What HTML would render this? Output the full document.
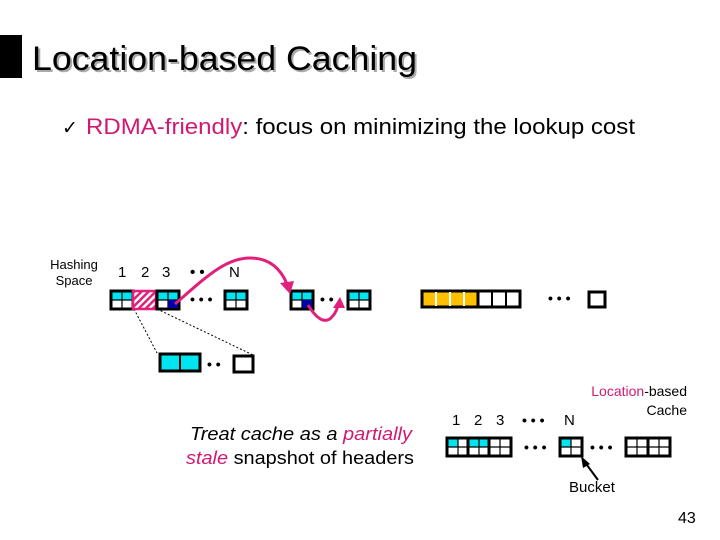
<!DOCTYPE html>
<html><head><style>
body{margin:0;width:720px;height:540px;background:#fff;overflow:hidden;font-family:"Liberation Sans",sans-serif}
svg{position:absolute;left:0;top:0}
</style></head><body>
<svg width="720" height="540" viewBox="0 0 720 540" font-family="Liberation Sans, sans-serif">
<defs>
<pattern id="h" width="5" height="5" patternUnits="userSpaceOnUse" patternTransform="rotate(45)"><rect width="5" height="5" fill="#fff"/><rect width="2.5" height="5" fill="#e0207a"/></pattern>
<g id="b">
<rect x="0" y="0" width="22" height="18" fill="#fff"/>
<rect x="0" y="0" width="22" height="9" fill="#00e5ef"/>
<line x1="11" y1="0" x2="11" y2="18" stroke="#000" stroke-width="1.2"/>
<line x1="0" y1="9" x2="22" y2="9" stroke="#000" stroke-width="1.2"/>
<rect x="0" y="0" width="22" height="18" fill="none" stroke="#000" stroke-width="3"/>
</g>
<g id="w">
<rect x="0" y="0" width="22" height="18" fill="#fff"/>
<line x1="11" y1="0" x2="11" y2="18" stroke="#000" stroke-width="1.2"/>
<line x1="0" y1="9" x2="22" y2="9" stroke="#000" stroke-width="1.2"/>
<rect x="0" y="0" width="22" height="18" fill="none" stroke="#000" stroke-width="3"/>
</g>
<g id="c">
<rect x="0" y="0" width="22" height="18" fill="#fff"/>
<rect x="0" y="0" width="11" height="9" fill="#00e5ef"/>
<line x1="11" y1="0" x2="11" y2="18" stroke="#000" stroke-width="1.2"/>
<line x1="0" y1="9" x2="22" y2="9" stroke="#000" stroke-width="1.2"/>
<rect x="0" y="0" width="22" height="18" fill="none" stroke="#000" stroke-width="3"/>
</g>
</defs>
<rect x="0" y="35" width="22" height="43" fill="#000"/>
<text x="32" y="70" font-size="34" fill="#aaa" dx="2" dy="2" textLength="385" lengthAdjust="spacingAndGlyphs">Location-based Caching</text>
<text x="32" y="70" font-size="34" fill="#000" textLength="385" lengthAdjust="spacingAndGlyphs">Location-based Caching</text>
<text x="62" y="134" font-size="19" fill="#000">✓</text>
<text x="86" y="134" font-size="22" textLength="549" lengthAdjust="spacingAndGlyphs"><tspan fill="#d01a72">RDMA-friendly</tspan>: focus on minimizing the lookup cost</text>

<text x="74" y="269" font-size="13" text-anchor="middle">Hashing</text>
<text x="74" y="285" font-size="13" text-anchor="middle">Space</text>
<text x="118" y="277" font-size="15">1</text><text x="141" y="277" font-size="15">2</text><text x="162" y="277" font-size="15">3</text>
<text x="190" y="277" font-size="15" font-weight="bold">• •</text>
<text x="229" y="277" font-size="15">N</text>

<line x1="134" y1="309" x2="157" y2="353" stroke="#000" stroke-dasharray="2,2"/>
<line x1="157" y1="309" x2="253" y2="355" stroke="#000" stroke-dasharray="2,2"/>
<use href="#b" x="111" y="291"/>
<rect x="133" y="291" width="23" height="18" fill="url(#h)" stroke="#e0207a" stroke-width="2.5"/>
<use href="#b" x="157" y="291"/>
<rect x="168" y="300" width="10" height="8" fill="#0000a0"/>
<text x="190" y="304" font-size="14" font-weight="bold">• • •</text>
<use href="#b" x="225" y="291"/>
<use href="#b" x="291" y="291"/>
<rect x="302" y="300" width="10" height="8" fill="#0000a0"/>
<text x="320" y="304" font-size="14" font-weight="bold">• •</text>
<use href="#b" x="348" y="291"/>

<rect x="160" y="354" width="40" height="17" fill="#00e5ef" stroke="#000" stroke-width="3"/>
<line x1="180" y1="354" x2="180" y2="371" stroke="#000" stroke-width="2"/>
<text x="207" y="369" font-size="14" font-weight="bold">• •</text>
<rect x="234" y="356" width="19" height="16" fill="#fff" stroke="#000" stroke-width="3"/>

<path d="M175 304 C 205 278, 225 258, 250 258 C 272 258, 282 272, 287 284" fill="none" stroke="#e0207a" stroke-width="3"/>
<polygon points="290,294 280,283 294,281" fill="#e0207a"/>
<path d="M308 305 C 316 318, 324 324, 331 318 C 336 313, 337 309, 338 305" fill="none" stroke="#e0207a" stroke-width="3"/>
<polygon points="340,297 333,308 345,308" fill="#e0207a"/>

<g stroke="#000" stroke-width="3">
<rect x="422" y="291" width="98" height="16" fill="#fff"/>
<rect x="422" y="291" width="56" height="16" fill="#ffc000"/>
</g>
<g stroke="#fff" stroke-width="2"><line x1="436" y1="292" x2="436" y2="306"/><line x1="450" y1="292" x2="450" y2="306"/><line x1="464" y1="292" x2="464" y2="306"/></g>
<g stroke="#000" stroke-width="2"><line x1="478" y1="292" x2="478" y2="306"/><line x1="492" y1="292" x2="492" y2="306"/><line x1="506" y1="292" x2="506" y2="306"/></g>
<text x="548" y="303" font-size="14" font-weight="bold">• • •</text>
<rect x="589" y="292" width="16" height="15" fill="#fff" stroke="#000" stroke-width="3"/>

<text x="190" y="440" font-size="18" font-style="italic" textLength="222" lengthAdjust="spacingAndGlyphs">Treat cache as a <tspan fill="#d01a72">partially</tspan></text>
<text x="186" y="464" font-size="18" textLength="228" lengthAdjust="spacingAndGlyphs"><tspan font-style="italic" fill="#d01a72">stale</tspan> snapshot of headers</text>

<text x="687" y="396" font-size="14" text-anchor="end"><tspan fill="#d01a72">Location</tspan>-based</text>
<text x="687" y="415" font-size="14" text-anchor="end">Cache</text>
<text x="452" y="425" font-size="15">1</text><text x="474" y="425" font-size="15">2</text><text x="496" y="425" font-size="15">3</text>
<text x="522" y="425" font-size="14" font-weight="bold">• • •</text>
<text x="564" y="425" font-size="15">N</text>
<use href="#c" x="447" y="438"/>
<use href="#b" x="468" y="438"/>
<use href="#w" x="489" y="438"/>
<text x="524" y="452" font-size="14" font-weight="bold">• • •</text>
<use href="#c" x="560" y="438"/>
<text x="590" y="452" font-size="14" font-weight="bold">• • •</text>
<use href="#w" x="626" y="438"/>
<use href="#w" x="648" y="438"/>
<line x1="598" y1="480" x2="584" y2="461" stroke="#000" stroke-width="2"/>
<polygon points="581,456 590,464 583,468" fill="#000"/>
<text x="569" y="492" font-size="15">Bucket</text>
<text x="678" y="523" font-size="16">43</text>
</svg>
</body></html>
